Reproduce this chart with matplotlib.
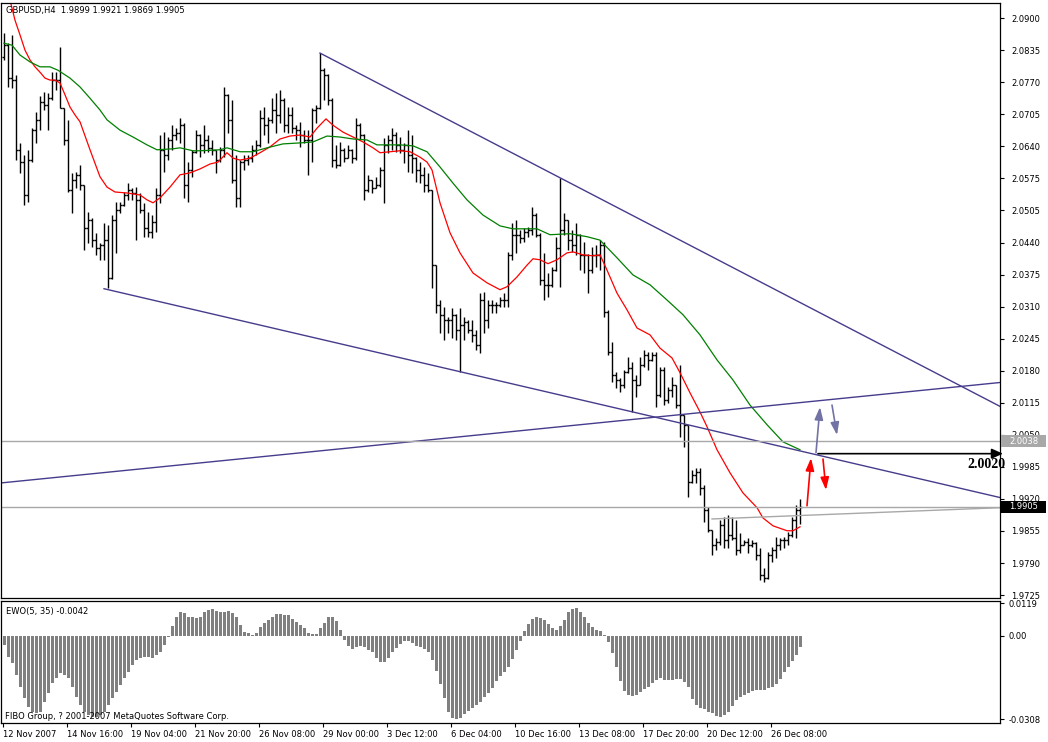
import numpy as np
import matplotlib
matplotlib.use("Agg")
import matplotlib.pyplot as plt
import matplotlib.transforms as mtransforms
from matplotlib.patches import Rectangle

plt.rcParams["font.family"] = "DejaVu Sans"

# GBPUSD H4 bars (oldest first)
first_open = 2.0820
highs = [
    2.0870, 2.0849, 2.0866, 2.0784, 2.0646, 2.0621, 2.0632, 2.0676, 2.0709, 2.0742,
    2.0750, 2.0748, 2.0790, 2.0790, 2.0841, 2.0717, 2.0693, 2.0585, 2.0587, 2.0601,
    2.0560, 2.0505, 2.0493, 2.0463, 2.0442, 2.0483, 2.0479, 2.0499, 2.0526, 2.0526,
    2.0546, 2.0564, 2.0554, 2.0556, 2.0544, 2.0524, 2.0505, 2.0499, 2.0554, 2.0662,
    2.0668, 2.0658, 2.0682, 2.0676, 2.0697, 2.0687, 2.0607, 2.0632, 2.0672, 2.0664,
    2.0682, 2.0662, 2.0652, 2.0632, 2.0638, 2.0760, 2.0746, 2.0733, 2.0621, 2.0611,
    2.0621, 2.0621, 2.0642, 2.0652, 2.0713, 2.0719, 2.0699, 2.0737, 2.0748, 2.0754,
    2.0737, 2.0719, 2.0719, 2.0682, 2.0689, 2.0672, 2.0672, 2.0717, 2.0723, 2.0829,
    2.0799, 2.0786, 2.0737, 2.0642, 2.0648, 2.0636, 2.0642, 2.0634, 2.0697, 2.0687,
    2.0664, 2.0581, 2.0571, 2.0577, 2.0597, 2.0656, 2.0662, 2.0676, 2.0668, 2.0658,
    2.0646, 2.0672, 2.0662, 2.0617, 2.0607, 2.0597, 2.0585, 2.0550, 2.0397, 2.0326,
    2.0312, 2.0292, 2.0310, 2.0298, 2.0310, 2.0292, 2.0285, 2.0285, 2.0265, 2.0340,
    2.0342, 2.0326, 2.0326, 2.0322, 2.0332, 2.0340, 2.0424, 2.0483, 2.0489, 2.0469,
    2.0473, 2.0475, 2.0516, 2.0503, 2.0463, 2.0422, 2.0381, 2.0393, 2.0454, 2.0575,
    2.0503, 2.0489, 2.0469, 2.0483, 2.0460, 2.0444, 2.0420, 2.0434, 2.0438, 2.0448,
    2.0444, 2.0306, 2.0241, 2.0180, 2.0167, 2.0184, 2.0210, 2.0200, 2.0174, 2.0210,
    2.0224, 2.0220, 2.0220, 2.0220, 2.0190, 2.0190, 2.0149, 2.0169, 2.0153, 2.0194,
    2.0092, 2.0072, 1.9980, 1.9984, 1.9984, 1.9950, 1.9905, 1.9858, 1.9842, 1.9878,
    1.9884, 1.9888, 1.9884, 1.9878, 1.9852, 1.9838, 1.9842, 1.9838, 1.9834, 1.9821,
    1.9780, 1.9813, 1.9823, 1.9844, 1.9842, 1.9844, 1.9854, 1.9884, 1.9909, 1.9921,
]
lows = [
    2.0815, 2.0760, 2.0758, 2.0611, 2.0585, 2.0520, 2.0526, 2.0607, 2.0646, 2.0672,
    2.0713, 2.0672, 2.0733, 2.0754, 2.0717, 2.0642, 2.0546, 2.0503, 2.0554, 2.0550,
    2.0428, 2.0442, 2.0434, 2.0418, 2.0408, 2.0408, 2.0351, 2.0369, 2.0422, 2.0503,
    2.0518, 2.0530, 2.0530, 2.0448, 2.0503, 2.0454, 2.0454, 2.0452, 2.0465, 2.0524,
    2.0587, 2.0611, 2.0632, 2.0652, 2.0646, 2.0534, 2.0526, 2.0577, 2.0626, 2.0617,
    2.0626, 2.0628, 2.0621, 2.0585, 2.0607, 2.0617, 2.0666, 2.0564, 2.0516, 2.0516,
    2.0591, 2.0601, 2.0607, 2.0621, 2.0638, 2.0662, 2.0646, 2.0687, 2.0666, 2.0687,
    2.0668, 2.0666, 2.0666, 2.0652, 2.0638, 2.0646, 2.0581, 2.0607, 2.0687, 2.0715,
    2.0733, 2.0723, 2.0597, 2.0595, 2.0599, 2.0607, 2.0615, 2.0605, 2.0611, 2.0652,
    2.0530, 2.0546, 2.0544, 2.0554, 2.0556, 2.0524, 2.0626, 2.0632, 2.0628, 2.0626,
    2.0605, 2.0587, 2.0585, 2.0566, 2.0564, 2.0546, 2.0546, 2.0351, 2.0300, 2.0259,
    2.0245, 2.0259, 2.0249, 2.0245, 2.0180, 2.0245, 2.0259, 2.0241, 2.0224, 2.0218,
    2.0259, 2.0269, 2.0300, 2.0300, 2.0312, 2.0312, 2.0312, 2.0408, 2.0422, 2.0442,
    2.0444, 2.0454, 2.0458, 2.0454, 2.0357, 2.0326, 2.0332, 2.0353, 2.0385, 2.0353,
    2.0458, 2.0428, 2.0424, 2.0418, 2.0387, 2.0381, 2.0340, 2.0381, 2.0393, 2.0387,
    2.0292, 2.0214, 2.0159, 2.0147, 2.0139, 2.0147, 2.0177, 2.0098, 2.0129, 2.0153,
    2.0190, 2.0184, 2.0202, 2.0108, 2.0129, 2.0112, 2.0117, 2.0129, 2.0106, 2.0047,
    2.0027, 1.9925, 1.9954, 1.9954, 1.9929, 1.9874, 1.9854, 1.9807, 1.9817, 1.9827,
    1.9821, 1.9821, 1.9838, 1.9807, 1.9811, 1.9827, 1.9811, 1.9823, 1.9797, 1.9756,
    1.9752, 1.9758, 1.9793, 1.9801, 1.9817, 1.9821, 1.9827, 1.9844, 1.9842, 1.9869,
]
closes = [
    2.0845, 2.0778, 2.0774, 2.0632, 2.0607, 2.0540, 2.0611, 2.0672, 2.0693, 2.0729,
    2.0723, 2.0737, 2.0774, 2.0774, 2.0717, 2.0652, 2.0550, 2.0571, 2.0581, 2.0560,
    2.0473, 2.0489, 2.0448, 2.0432, 2.0438, 2.0448, 2.0371, 2.0489, 2.0509, 2.0520,
    2.0540, 2.0550, 2.0544, 2.0530, 2.0509, 2.0473, 2.0465, 2.0485, 2.0540, 2.0632,
    2.0621, 2.0652, 2.0662, 2.0666, 2.0682, 2.0560, 2.0591, 2.0628, 2.0662, 2.0642,
    2.0652, 2.0636, 2.0632, 2.0611, 2.0632, 2.0744, 2.0693, 2.0571, 2.0534, 2.0607,
    2.0611, 2.0615, 2.0632, 2.0642, 2.0697, 2.0682, 2.0693, 2.0713, 2.0703, 2.0733,
    2.0682, 2.0703, 2.0676, 2.0672, 2.0662, 2.0652, 2.0652, 2.0713, 2.0717, 2.0795,
    2.0784, 2.0733, 2.0611, 2.0601, 2.0632, 2.0615, 2.0632, 2.0615, 2.0682, 2.0662,
    2.0550, 2.0571, 2.0554, 2.0560, 2.0591, 2.0642, 2.0652, 2.0662, 2.0642, 2.0632,
    2.0642, 2.0621, 2.0615, 2.0591, 2.0581, 2.0560, 2.0550, 2.0397, 2.0316, 2.0296,
    2.0285, 2.0285, 2.0296, 2.0265, 2.0275, 2.0281, 2.0265, 2.0255, 2.0235, 2.0326,
    2.0285, 2.0316, 2.0316, 2.0316, 2.0326, 2.0326, 2.0418, 2.0458, 2.0458, 2.0452,
    2.0465, 2.0469, 2.0499, 2.0458, 2.0367, 2.0357, 2.0357, 2.0387, 2.0432, 2.0469,
    2.0489, 2.0448, 2.0438, 2.0458, 2.0418, 2.0418, 2.0387, 2.0418, 2.0418, 2.0438,
    2.0302, 2.0220, 2.0174, 2.0163, 2.0153, 2.0180, 2.0188, 2.0163, 2.0153, 2.0194,
    2.0214, 2.0204, 2.0214, 2.0133, 2.0184, 2.0123, 2.0143, 2.0153, 2.0112, 2.0092,
    2.0072, 1.9956, 1.9970, 1.9976, 1.9943, 1.9899, 1.9858, 1.9827, 1.9834, 1.9868,
    1.9838, 1.9848, 1.9842, 1.9817, 1.9827, 1.9834, 1.9827, 1.9831, 1.9807, 1.9766,
    1.9760, 1.9807, 1.9817, 1.9827, 1.9838, 1.9838, 1.9848, 1.9878, 1.9899, 1.9905,
]

# moving averages, read at points along the curves (bar position, price)
red_ma_bars = [
    0, 1.5, 2.75, 4, 5.25, 6.5, 7.75, 9, 10.25, 11.5, 12.75, 14, 15.25, 16.5, 17.75, 19,
    21.5, 24, 25.75, 27.75, 30.75, 34, 35.75, 37.25, 39, 41.5, 44, 46.5, 49, 51.5, 53.5,
    55.75, 57.25, 59, 61.5, 64, 66.5, 69, 71.5, 74, 76.5, 78.25, 80.5, 82.25, 84.75,
    87.25, 89.75, 92.25, 94, 96.5, 99, 101.5, 104, 105.75, 107, 109, 111.5, 114, 117.25,
    120.75, 124, 125.75, 128.25, 130.75, 132.25, 134, 136, 138.25, 140.75, 142.25,
    144.75, 147.25, 149, 150.75, 153.25, 155.75, 158.25, 161.5, 164, 167, 169, 171.5,
    174, 175.75, 178.25, 181.5, 184.75, 188.25, 189.75, 192.25, 195.75, 197.25, 199,
]
red_ma = [
    2.0978, 2.0937, 2.0896, 2.0866, 2.0835, 2.0815, 2.0801, 2.0790, 2.0778, 2.0774,
    2.0774, 2.0768, 2.0744, 2.0719, 2.0703, 2.0689, 2.0632, 2.0577, 2.0556, 2.0546,
    2.0544, 2.0540, 2.0530, 2.0524, 2.0534, 2.0556, 2.0581, 2.0585, 2.0593, 2.0603,
    2.0607, 2.0626, 2.0615, 2.0611, 2.0615, 2.0626, 2.0638, 2.0654, 2.0660, 2.0662,
    2.0658, 2.0676, 2.0695, 2.0682, 2.0668, 2.0658, 2.0648, 2.0636, 2.0626, 2.0628,
    2.0630, 2.0628, 2.0617, 2.0607, 2.0591, 2.0524, 2.0463, 2.0422, 2.0381, 2.0361,
    2.0347, 2.0353, 2.0373, 2.0397, 2.0410, 2.0408, 2.0400, 2.0408, 2.0422, 2.0424,
    2.0418, 2.0416, 2.0418, 2.0387, 2.0340, 2.0306, 2.0269, 2.0255, 2.0228, 2.0208,
    2.0178, 2.0137, 2.0098, 2.0068, 2.0021, 1.9974, 1.9933, 1.9903, 1.9882, 1.9866,
    1.9856, 1.9856, 1.9864,
]
green_ma_bars = [
    0, 2, 4, 6.5, 9, 11.5, 13.5, 16.5, 19, 21.5, 24, 25.75, 29, 32.25, 35.75, 38.25,
    42.25, 44, 47.25, 49, 54, 55.75, 59, 62.25, 65.75, 69.75, 74, 77.25, 80.75, 84,
    87.25, 90.75, 93.25, 95.75, 99, 102.25, 105.75, 109, 112.25, 115.75, 119.75, 124,
    127.25, 133.25, 136.5, 141.5, 145.75, 149, 153.25, 157.25, 161.5, 165.75, 169.75,
    174, 178.25, 182.25, 186.5, 190.75, 194.75, 199,
]
green_ma = [
    2.0849, 2.0845, 2.0825, 2.0811, 2.0801, 2.0801, 2.0794, 2.0778, 2.0760, 2.0737,
    2.0713, 2.0693, 2.0672, 2.0658, 2.0642, 2.0632, 2.0634, 2.0636, 2.0630, 2.0630,
    2.0632, 2.0636, 2.0628, 2.0628, 2.0636, 2.0644, 2.0646, 2.0648, 2.0660, 2.0658,
    2.0654, 2.0652, 2.0642, 2.0642, 2.0642, 2.0640, 2.0628, 2.0597, 2.0564, 2.0530,
    2.0499, 2.0477, 2.0471, 2.0471, 2.0459, 2.0461, 2.0455, 2.0448, 2.0412, 2.0377,
    2.0357, 2.0326, 2.0296, 2.0255, 2.0204, 2.0163, 2.0112, 2.0072, 2.0037, 2.0021,
]

# Elliott wave oscillator EWO(5, 35)
ewo = [
    -0.0033, -0.0077, -0.0099, -0.0144, -0.0188, -0.0228, -0.0261, -0.0280, -0.0283, -0.0280,
    -0.0243, -0.0210, -0.0173, -0.0155, -0.0136, -0.0144, -0.0155, -0.0188, -0.0224, -0.0254,
    -0.0280, -0.0291, -0.0298, -0.0298, -0.0291, -0.0280, -0.0254, -0.0228, -0.0206, -0.0180,
    -0.0155, -0.0132, -0.0107, -0.0088, -0.0081, -0.0077, -0.0077, -0.0081, -0.0070, -0.0059,
    -0.0033, -0.0004, 0.0037, 0.0070, 0.0088, 0.0085, 0.0070, 0.0070, 0.0066, 0.0070,
    0.0088, 0.0096, 0.0099, 0.0092, 0.0088, 0.0088, 0.0092, 0.0085, 0.0070, 0.0040,
    0.0015, 0.0011, 0.0004, 0.0011, 0.0033, 0.0048, 0.0059, 0.0070, 0.0081, 0.0081,
    0.0077, 0.0077, 0.0063, 0.0050, 0.0038, 0.0028, 0.0011, 0.0007, 0.0007, 0.0028,
    0.0047, 0.0069, 0.0069, 0.0054, 0.0021, -0.0015, -0.0037, -0.0049, -0.0042, -0.0036,
    -0.0042, -0.0054, -0.0061, -0.0082, -0.0097, -0.0097, -0.0082, -0.0060, -0.0045, -0.0031,
    -0.0021, -0.0021, -0.0025, -0.0036, -0.0042, -0.0049, -0.0058, -0.0090, -0.0129, -0.0178,
    -0.0229, -0.0281, -0.0303, -0.0308, -0.0301, -0.0288, -0.0276, -0.0266, -0.0256, -0.0242,
    -0.0226, -0.0210, -0.0193, -0.0166, -0.0147, -0.0134, -0.0114, -0.0086, -0.0052, -0.0018,
    0.0018, 0.0043, 0.0060, 0.0069, 0.0065, 0.0058, 0.0043, 0.0028, 0.0022, 0.0037,
    0.0058, 0.0087, 0.0099, 0.0102, 0.0087, 0.0069, 0.0048, 0.0031, 0.0022, 0.0017,
    0.0004, -0.0022, -0.0064, -0.0115, -0.0166, -0.0202, -0.0217, -0.0221, -0.0217, -0.0207,
    -0.0195, -0.0188, -0.0175, -0.0163, -0.0156, -0.0161, -0.0163, -0.0163, -0.0160, -0.0160,
    -0.0169, -0.0189, -0.0232, -0.0254, -0.0266, -0.0270, -0.0279, -0.0285, -0.0297, -0.0299,
    -0.0291, -0.0281, -0.0259, -0.0238, -0.0226, -0.0217, -0.0211, -0.0205, -0.0200, -0.0199,
    -0.0199, -0.0193, -0.0190, -0.0178, -0.0158, -0.0134, -0.0115, -0.0092, -0.0070, -0.0042,
]

price_ticks = ["2.0900", "2.0835", "2.0770", "2.0705", "2.0640", "2.0575", "2.0505",
               "2.0440", "2.0375", "2.0310", "2.0245", "2.0180", "2.0115", "2.0050",
               "1.9985", "1.9920", "1.9855", "1.9790", "1.9725"]
ewo_ticks = [0.0119, 0.0, -0.0308]
ewo_tick_labels = ["0.0119", "0.00", "-0.0308"]
time_labels = ["12 Nov 2007", "14 Nov 16:00", "19 Nov 04:00", "21 Nov 20:00",
               "26 Nov 08:00", "29 Nov 00:00", "3 Dec 12:00", "6 Dec 04:00",
               "10 Dec 16:00", "13 Dec 08:00", "17 Dec 20:00", "20 Dec 12:00",
               "26 Dec 08:00"]

# drawn objects (bar index, price)
upper_line = [(79, 2.0829), (139, 2.0575)]
lower_line = [(25, 2.0349), (114, 2.0180)]
rising_line = [(0, 1.9954), (199, 2.0117)]
gray_line = [(177, 1.9880), (199, 1.9887)]
levels = [2.0038, 1.9905]
level_labels = ["2.0038", "1.9905"]
level_colors = ["#a8a8a8", "black"]
red_arrows = [((200.75, 1.9907), (201.75, 2.0004)), ((204.75, 2.0002), (205.5, 1.9939))]
slate_arrows = [((203.0, 2.0015), (204.0, 2.0108)), ((207.0, 2.0112), (208.25, 2.0051))]
target_arrow = ((203.5, 2.0013), (249.75, 2.0013))
target_text = "2.0020"

X0, X1 = -0.75, 249.0
TRENDC = "#463c8c"
FS = 6

W, H = 1048, 742
fig = plt.figure(figsize=(W / 100, H / 100), dpi=100)
ax = fig.add_axes([1 / W, (H - 598) / H, 999 / W, 595 / H])
ax2 = fig.add_axes([1 / W, (H - 723) / H, 999 / W, 122 / H])

bars = np.arange(len(highs))
opens = [first_open] + closes[:-1]
ax.vlines(bars, lows, highs, colors="black", lw=1.0)
ax.hlines(opens, bars - 0.45, bars, colors="black", lw=1.0)
ax.hlines(closes, bars, bars + 0.45, colors="black", lw=1.0)

ax.plot(red_ma_bars, red_ma, color="#ff0000", lw=0.9)
ax.plot(green_ma_bars, green_ma, color="#008000", lw=0.9)


def extend(p0, p1, xa, xb):
    k = (p1[1] - p0[1]) / (p1[0] - p0[0])
    xs = np.array([xa, xb])
    return xs, p0[1] + k * (xs - p0[0])


for pts, start in [(upper_line, upper_line[0][0]), (lower_line, lower_line[0][0]),
                   (rising_line, X0)]:
    xs, ys = extend(pts[0], pts[1], start, X1)
    ax.plot(xs, ys, color=TRENDC, lw=1.0)
xs, ys = extend(gray_line[0], gray_line[1], gray_line[0][0], X1)
ax.plot(xs, ys, color="#a8a8a8", lw=1.0)
for lv in levels:
    ax.axhline(lv, color="#a8a8a8", lw=1.0)

for tail, head in red_arrows:
    ax.annotate("", xy=head, xytext=tail,
                arrowprops=dict(arrowstyle="-|>,head_length=0.5,head_width=0.17",
                                mutation_scale=15, color="#ff0000", lw=1.2,
                                shrinkA=0, shrinkB=0))
for tail, head in slate_arrows:
    ax.annotate("", xy=head, xytext=tail,
                arrowprops=dict(arrowstyle="-|>,head_length=0.5,head_width=0.17",
                                mutation_scale=15, color="#7272a4", lw=1.2,
                                shrinkA=0, shrinkB=0))
ax.annotate("", xy=target_arrow[1], xytext=target_arrow[0], annotation_clip=False,
            arrowprops=dict(arrowstyle="-|>,head_length=0.45,head_width=0.2",
                            mutation_scale=15, color="black", lw=1.2,
                            shrinkA=0, shrinkB=0))
ax.text(250.5, 1.9990, target_text, ha="right", va="center", fontsize=10,
        fontweight="bold", family="Liberation Serif", clip_on=False, zorder=12)

ax.set_xlim(X0, X1)
ax.set_ylim(1.9719, 2.0931)
ax.set_xticks([])
ax.yaxis.tick_right()
ax.set_yticks(np.linspace(2.0900, 1.9725, len(price_ticks)))
ax.set_yticklabels(price_ticks)
ax.tick_params(axis="y", direction="out", length=3, width=0.8, pad=5, labelsize=FS)

# current-price labels on the price scale
blend = mtransforms.blended_transform_factory(ax.transAxes, ax.transData)
for lv, lab, col in zip(levels, level_labels, level_colors):
    ax.add_patch(Rectangle((1.001, lv - 0.00122), 0.045, 0.00244, transform=blend,
                           facecolor=col, edgecolor="none", clip_on=False, zorder=19))
    ax.text(1.0235, lv, lab, transform=blend, ha="center", va="center",
            fontsize=FS, color="white", clip_on=False, zorder=20)

ax.text(0.005, 0.988, "GBPUSD,H4  1.9899 1.9921 1.9869 1.9905", transform=ax.transAxes,
        ha="left", va="center", fontsize=FS)

# indicator window
ax2.bar(bars, ewo, width=0.75, color="#808080", linewidth=0)
ax2.set_xlim(X0, X1)
ax2.set_ylim(-0.0321, 0.0128)
ax2.yaxis.tick_right()
ax2.set_yticks(ewo_ticks)
ax2.set_yticklabels(ewo_tick_labels)
ax2.tick_params(axis="y", direction="out", length=3, width=0.8, pad=3, labelsize=FS)
ax2.set_xticks(np.arange(0, 16 * len(time_labels), 16) - 0.3)
ax2.set_xticklabels(time_labels, ha="left")
ax2.tick_params(axis="x", direction="out", length=3, width=0.8, pad=2, labelsize=FS)
ax2.text(0.005, 0.918, "EWO(5, 35) -0.0042", transform=ax2.transAxes, ha="left",
         va="center", fontsize=FS)
ax2.text(0.004, 0.05, "FIBO Group, ? 2001-2007 MetaQuotes Software Corp.",
         transform=ax2.transAxes, ha="left", va="center", fontsize=FS, zorder=10)

for a in (ax, ax2):
    for s in a.spines.values():
        s.set_linewidth(0.9)
        s.set_color("black")

fig.savefig("out.png", dpi=100)
